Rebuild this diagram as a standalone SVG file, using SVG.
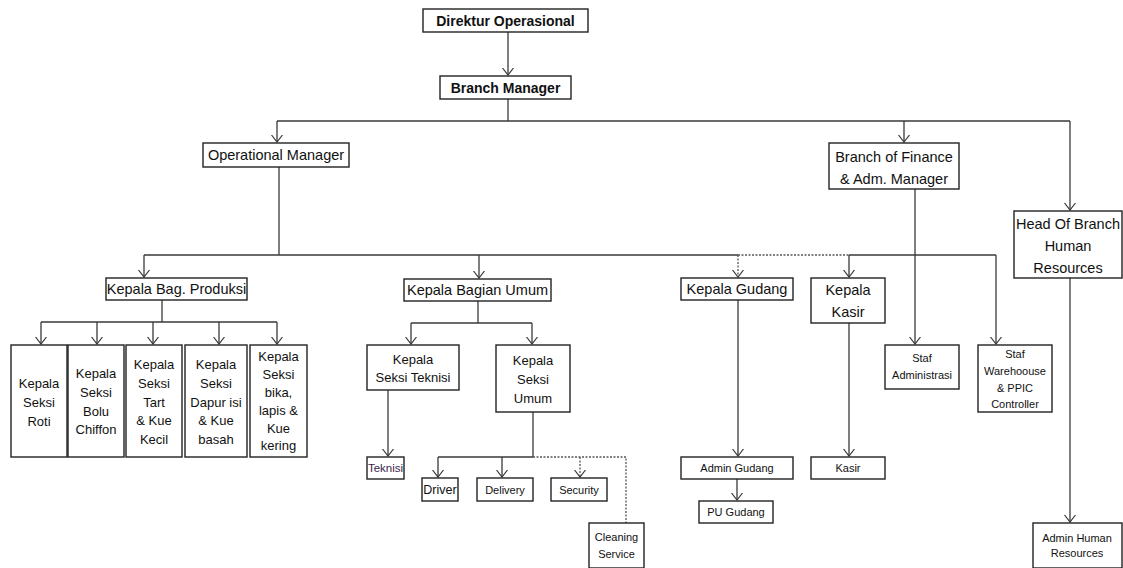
<svg xmlns="http://www.w3.org/2000/svg" width="1123" height="568" viewBox="0 0 1123 568">
<style>
  .box{fill:#fff;stroke:#222;stroke-width:1.4}
  .t{font-family:"Liberation Sans",Arial,sans-serif;fill:#111;text-anchor:middle}
  .b{font-weight:bold;font-size:14px}
  .m{font-size:14.5px}
  .s13{font-size:13px}
  .s11{font-size:11px}
  .ln{fill:none;stroke:#3a3a3a;stroke-width:1.3}
  .dash{fill:none;stroke:#555;stroke-width:1.3;stroke-dasharray:2 1.5}
</style>
<defs>
  <marker id="arr" viewBox="0 0 8 12" refX="7.5" refY="6" markerWidth="8" markerHeight="12" orient="auto" markerUnits="userSpaceOnUse">
    <path d="M0.5,0.5 L7.5,6 L0.5,11.5" fill="none" stroke="#3a3a3a" stroke-width="1.2"/>
  </marker>
</defs>
<rect width="1123" height="568" fill="#fff"/>

<g id="connectors">
  <path class="ln" d="M508,32 V75" marker-end="url(#arr)"/>
  <path class="ln" d="M508,99 V121 M277,121 H1070"/>
  <path class="ln" d="M277,121 V142" marker-end="url(#arr)"/>
  <path class="ln" d="M904,121 V142" marker-end="url(#arr)"/>
  <path class="ln" d="M1070,121 V210" marker-end="url(#arr)"/>
  <path class="ln" d="M279,167 V255 M144,255 H738 M849,255 H996"/>
  <path class="dash" d="M738,255 H849"/>
  <path class="ln" d="M144,255 V277" marker-end="url(#arr)"/>
  <path class="ln" d="M479,255 V278" marker-end="url(#arr)"/>
  <path class="dash" d="M738,255 V277" marker-end="url(#arr)"/>
  <path class="ln" d="M849,255 V277" marker-end="url(#arr)"/>
  <path class="ln" d="M996,255 V344" marker-end="url(#arr)"/>
  <path class="ln" d="M915,189 V344" marker-end="url(#arr)"/>
  <path class="ln" d="M162,300 V322 M41,322 H277"/>
  <path class="ln" d="M41,322 V344" marker-end="url(#arr)"/>
  <path class="ln" d="M97,322 V344" marker-end="url(#arr)"/>
  <path class="ln" d="M153,322 V344" marker-end="url(#arr)"/>
  <path class="ln" d="M219,322 V344" marker-end="url(#arr)"/>
  <path class="ln" d="M277,322 V344" marker-end="url(#arr)"/>
  <path class="ln" d="M478,301 V323 M411,323 H532"/>
  <path class="ln" d="M411,323 V344" marker-end="url(#arr)"/>
  <path class="ln" d="M532,323 V344" marker-end="url(#arr)"/>
  <path class="ln" d="M388,390 V456" marker-end="url(#arr)"/>
  <path class="ln" d="M533,412 V457 M438,457 H533"/>
  <path class="ln" d="M438,457 V477" marker-end="url(#arr)"/>
  <path class="ln" d="M502,457 V477" marker-end="url(#arr)"/>
  <path class="dash" d="M533,457 H626 V523"/>
  <path class="dash" d="M580,457 V477" marker-end="url(#arr)"/>
  <path class="ln" d="M738,300 V456" marker-end="url(#arr)"/>
  <path class="ln" d="M737,479 V500" marker-end="url(#arr)"/>
  <path class="ln" d="M849,323 V456" marker-end="url(#arr)"/>
  <path class="ln" d="M1070,278 V522" marker-end="url(#arr)"/>
</g>

<g id="n-direktur"><rect class="box" x="423" y="9" width="165" height="23"/><text class="t b" x="505.5" y="25.5">Direktur Operasional</text></g>
<g id="n-branch"><rect class="box" x="440" y="76" width="131" height="23"/><text class="t b" x="505.5" y="92.5">Branch Manager</text></g>
<g id="n-opman"><rect class="box" x="203" y="143" width="146" height="24"/><text class="t m" x="276" y="160">Operational Manager</text></g>
<g id="n-finance"><rect class="box" x="829" y="143" width="130" height="46"/><text class="t m" x="894" y="161.5">Branch of Finance</text><text class="t m" x="894" y="184">&amp; Adm. Manager</text></g>
<g id="n-hr"><rect class="box" x="1014" y="211" width="108" height="67"/><text class="t m" x="1068" y="228.5">Head Of Branch</text><text class="t m" x="1068" y="250.5">Human</text><text class="t m" x="1068" y="272.5">Resources</text></g>
<g id="n-produksi"><rect class="box" x="106" y="278" width="141" height="22"/><text class="t m" x="176.5" y="294">Kepala Bag. Produksi</text></g>
<g id="n-umum"><rect class="box" x="404" y="279" width="147" height="22"/><text class="t m" x="477.5" y="295">Kepala Bagian Umum</text></g>
<g id="n-gudang"><rect class="box" x="681" y="278" width="112" height="22"/><text class="t m" x="737" y="294">Kepala Gudang</text></g>
<g id="n-kasir"><rect class="box" x="811" y="278" width="74" height="45"/><text class="t m" x="848" y="295">Kepala</text><text class="t m" x="848" y="317">Kasir</text></g>

<g id="n-roti"><rect class="box" x="11" y="345" width="56" height="112"/><text class="t s13" x="39" y="387.5">Kepala</text><text class="t s13" x="39" y="406.5">Seksi</text><text class="t s13" x="39" y="425.5">Roti</text></g>
<g id="n-bolu"><rect class="box" x="68" y="345" width="56" height="112"/><text class="t s13" x="96" y="377.5">Kepala</text><text class="t s13" x="96" y="396.5">Seksi</text><text class="t s13" x="96" y="415.5">Bolu</text><text class="t s13" x="96" y="434">Chiffon</text></g>
<g id="n-tart"><rect class="box" x="126" y="345" width="56" height="112"/><text class="t s13" x="154" y="368.5">Kepala</text><text class="t s13" x="154" y="387.5">Seksi</text><text class="t s13" x="154" y="406.5">Tart</text><text class="t s13" x="154" y="424.5">&amp; Kue</text><text class="t s13" x="154" y="444">Kecil</text></g>
<g id="n-dapur"><rect class="box" x="185" y="345" width="62" height="112"/><text class="t s13" x="216" y="368.5">Kepala</text><text class="t s13" x="216" y="387.5">Seksi</text><text class="t s13" x="216" y="406.5">Dapur isi</text><text class="t s13" x="216" y="424.5">&amp; Kue</text><text class="t s13" x="216" y="444">basah</text></g>
<g id="n-bika"><rect class="box" x="250" y="345" width="57" height="112"/><text class="t s13" x="278.5" y="360.5">Kepala</text><text class="t s13" x="278.5" y="378.5">Seksi</text><text class="t s13" x="278.5" y="396.5">bika,</text><text class="t s13" x="278.5" y="414.5">lapis &amp;</text><text class="t s13" x="278.5" y="432.5">Kue</text><text class="t s13" x="278.5" y="449.5">kering</text></g>

<g id="n-seksi-teknisi"><rect class="box" x="367" y="345" width="92" height="45"/><text class="t s13" x="413" y="363.5">Kepala</text><text class="t s13" x="413" y="382">Seksi Teknisi</text></g>
<g id="n-seksi-umum"><rect class="box" x="496" y="345" width="74" height="67"/><text class="t s13" x="533" y="364.5">Kepala</text><text class="t s13" x="533" y="383.5">Seksi</text><text class="t s13" x="533" y="402.5">Umum</text></g>
<g id="n-teknisi"><rect class="box" x="367" y="457" width="37" height="22"/><text class="t" style="font-size:11.5px;fill:#3b1f4f" x="385.5" y="472">Teknisi</text></g>
<g id="n-driver"><rect class="box" x="422" y="478" width="36" height="23"/><text class="t" style="font-size:12.5px" x="440" y="494">Driver</text></g>
<g id="n-delivery"><rect class="box" x="477" y="478" width="56" height="23"/><text class="t s11" x="505" y="493.5">Delivery</text></g>
<g id="n-security"><rect class="box" x="551" y="478" width="56" height="23"/><text class="t s11" x="579" y="493.5">Security</text></g>
<g id="n-cleaning"><rect class="box" x="589" y="523" width="55" height="45"/><text class="t s11" x="616.5" y="541">Cleaning</text><text class="t s11" x="616.5" y="558">Service</text></g>

<g id="n-admin-gudang"><rect class="box" x="681" y="457" width="112" height="22"/><text class="t s11" x="737" y="472">Admin Gudang</text></g>
<g id="n-kasir2"><rect class="box" x="811" y="457" width="74" height="22"/><text class="t s11" x="848" y="472">Kasir</text></g>
<g id="n-pu-gudang"><rect class="box" x="699" y="501" width="74" height="22"/><text class="t s11" x="736" y="516">PU Gudang</text></g>
<g id="n-staf-admin"><rect class="box" x="885" y="345" width="74" height="44"/><text class="t s11" x="922" y="362">Staf</text><text class="t s11" x="922" y="379">Administrasi</text></g>
<g id="n-staf-warehouse"><rect class="box" x="978" y="345" width="74" height="67"/><text class="t s11" x="1015" y="358">Staf</text><text class="t s11" x="1015" y="375">Warehoouse</text><text class="t s11" x="1015" y="392">&amp; PPIC</text><text class="t s11" x="1015" y="408">Controller</text></g>
<g id="n-admin-hr"><rect class="box" x="1033" y="523" width="89" height="45"/><text class="t s11" x="1077" y="541.5">Admin Human</text><text class="t s11" x="1077" y="557">Resources</text></g>
</svg>
